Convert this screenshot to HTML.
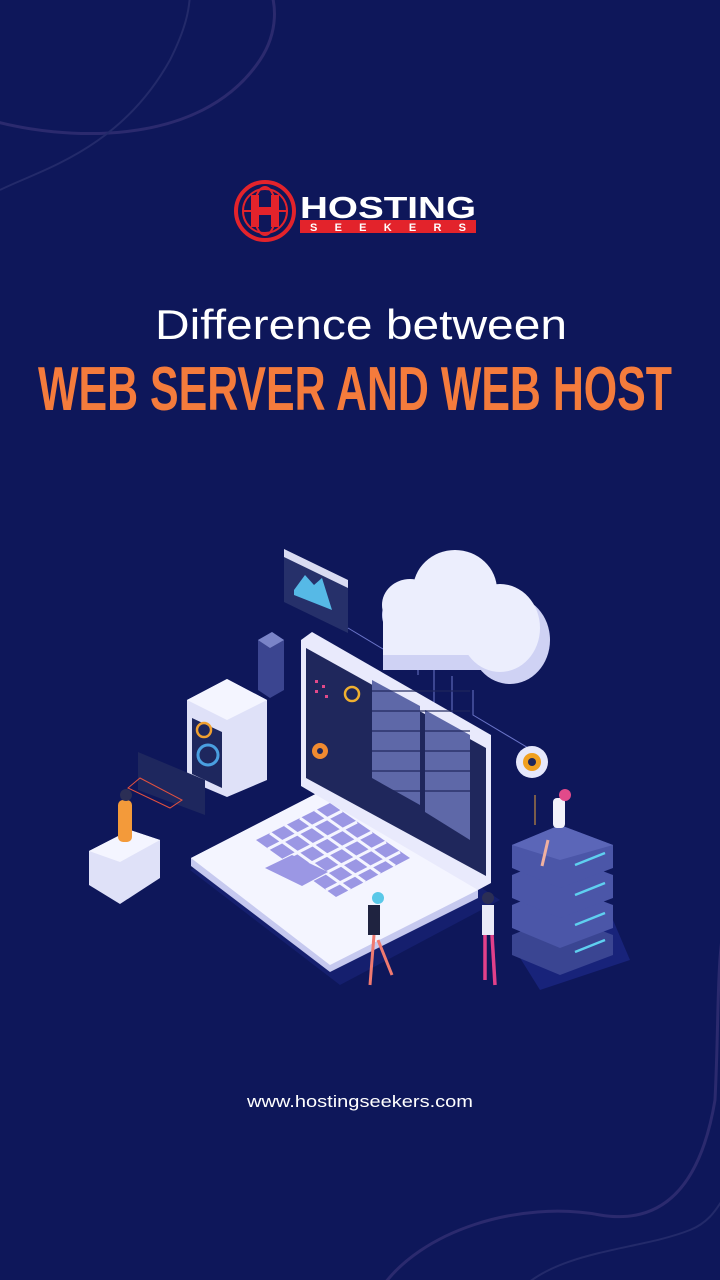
<!DOCTYPE html>
<html><head><meta charset="utf-8"><style>
html,body{margin:0;padding:0}
body{width:720px;height:1280px;background:#0e175a;position:relative;overflow:hidden;font-family:"Liberation Sans",sans-serif}
</style></head><body>
<svg width="720" height="1280" style="position:absolute;left:0;top:0">
<path d="M-10 120 C60 140 200 150 260 60 C280 30 275 0 270 -10" stroke="#2b2a6e" stroke-width="3" fill="none"/>
<path d="M0 190 C40 170 120 150 170 60 C185 30 190 10 190 -10" stroke="#232a6a" stroke-width="2" fill="none"/>
<path d="M380 1290 C420 1230 520 1200 600 1215 C660 1225 700 1190 715 1100 C720 1000 715 950 730 900" stroke="#2b2a6e" stroke-width="3" fill="none"/>
<path d="M520 1290 C560 1250 640 1250 690 1230 C715 1220 720 1200 730 1190" stroke="#232a6a" stroke-width="2" fill="none"/>
<!-- titles -->
<text x="155" y="339" fill="#fff" font-family="Liberation Sans" font-size="42" textLength="412" lengthAdjust="spacingAndGlyphs">Difference between</text>
<text x="38" y="410" fill="#f47b3c" font-family="Liberation Sans" font-weight="bold" font-size="62" textLength="634" lengthAdjust="spacingAndGlyphs">WEB SERVER AND WEB HOST</text>
<text x="247" y="1107" fill="#fff" font-family="Liberation Sans" font-size="17" textLength="226" lengthAdjust="spacingAndGlyphs">www.hostingseekers.com</text>
<!-- logo -->
<circle cx="265" cy="211" r="29" fill="none" stroke="#e3232b" stroke-width="4"/>
<circle cx="265" cy="211" r="22" fill="none" stroke="#e3232b" stroke-width="2"/>
<ellipse cx="265" cy="211" rx="11" ry="24" fill="none" stroke="#e3232b" stroke-width="2"/>
<line x1="242" y1="211" x2="288" y2="211" stroke="#e3232b" stroke-width="2"/>
<rect x="251" y="195" width="8" height="32" fill="#e3232b"/><rect x="271" y="195" width="8" height="32" fill="#e3232b"/><rect x="251" y="207" width="28" height="8" fill="#e3232b"/>
<text x="300" y="218" fill="#fff" font-family="Liberation Sans" font-weight="bold" font-size="31" textLength="176" lengthAdjust="spacingAndGlyphs">HOSTING</text>
<rect x="300" y="220" width="176" height="13" fill="#e3232b"/>
<text x="310" y="231" fill="#fff" font-family="Liberation Sans" font-weight="bold" font-size="11" textLength="156" lengthAdjust="spacing">SEEKERS</text>
<!-- illustration -->
<g>
<polygon points="190,870 340,795 500,900 340,985" fill="#151f6e"/>
<polygon points="512,945 613,920 630,960 540,990" fill="#18237a"/>
<polygon points="284,549 348,580 348,633 284,602" fill="#26306a"/>
<polygon points="284,549 348,580 348,588 284,557" fill="#d9dbf2"/>
<polygon points="294,590 305,575 314,585 322,578 332,610 294,595" fill="#56b9e6"/>
<polyline points="348,628 418,670 418,675" stroke="#6a74c8" fill="none"/>
<line x1="434" y1="668" x2="434" y2="710" stroke="#6a74c8"/>
<line x1="452" y1="676" x2="452" y2="715" stroke="#6a74c8"/>
<polyline points="473,690 473,715 535,752 535,770" stroke="#6a74c8" fill="none"/>
<line x1="535" y1="795" x2="535" y2="825" stroke="#e7a23a"/>
<g fill="#cfd2f4">
<ellipse cx="410" cy="615" rx="28" ry="26"/><ellipse cx="455" cy="600" rx="42" ry="40"/><ellipse cx="510" cy="640" rx="40" ry="44"/><rect x="383" y="615" width="150" height="55"/>
</g>
<g fill="#eceefd">
<ellipse cx="410" cy="605" rx="28" ry="26"/><ellipse cx="455" cy="590" rx="42" ry="40"/><ellipse cx="500" cy="628" rx="40" ry="44"/><rect x="383" y="605" width="140" height="50"/>
</g>
<polygon points="258,640 272,632 284,640 284,690 270,698 258,690" fill="#3b4590"/>
<polygon points="258,640 272,632 284,640 270,648" fill="#7a84c8"/>
<polygon points="187,700 227,679 267,700 267,780 227,797 187,780" fill="#dfe1f8"/>
<polygon points="187,700 227,679 267,700 227,720" fill="#f4f5ff"/>
<polygon points="192,718 222,732 222,788 192,774" fill="#1e275e"/>
<circle cx="204" cy="730" r="7" fill="none" stroke="#f0a030" stroke-width="2.5"/>
<circle cx="208" cy="755" r="10" fill="none" stroke="#4a9fe0" stroke-width="3"/>
<polygon points="138,752 205,780 205,815 138,790" fill="#1e275e"/>
<polygon points="140,778 182,800 170,808 128,788" fill="none" stroke="#e3513e" stroke-width="1"/>
<polygon points="89,851 130,830 160,840 160,878 120,904 89,885" fill="#dfe1f8"/>
<polygon points="89,851 130,830 160,840 120,862" fill="#f4f5ff"/>
<rect x="118" y="800" width="14" height="42" rx="5" fill="#f39a3a"/>
<circle cx="126" cy="795" r="6" fill="#2b2e55"/>
<polygon points="191,858 337,783 478,890 478,898 330,972 191,866" fill="#c6c9ef"/>
<polygon points="191,858 337,783 478,890 330,965" fill="#f4f5ff"/>
<polygon points="256,840 330,803 410,858 336,897" fill="#9b97e4"/>
<g stroke="#f4f5ff" stroke-width="3">
<line x1="270" y1="833" x2="350" y2="890"/><line x1="285" y1="825" x2="365" y2="882"/><line x1="300" y1="818" x2="380" y2="874"/><line x1="315" y1="810" x2="395" y2="866"/>
<line x1="268" y1="849" x2="342" y2="811"/><line x1="283" y1="860" x2="357" y2="822"/><line x1="298" y1="870" x2="372" y2="832"/><line x1="312" y1="880" x2="386" y2="842"/><line x1="326" y1="890" x2="400" y2="852"/>
</g>
<polygon points="265,868 292,855 328,872 302,886" fill="#9b97e4"/>
<polygon points="301,640 312,632 491,735 491,883 478,890 301,786" fill="#e9eafc"/>
<polygon points="306,648 486,748 486,876 306,778" fill="#1f275c"/>
<g fill="#5e68a8">
<polygon points="372,680 420,706 420,805 372,778"/><polygon points="425,710 470,735 470,840 425,812"/>
</g>
<g fill="#1f275c" opacity="0.6"><rect x="372" y="690" width="98" height="2"/><rect x="372" y="710" width="98" height="2"/><rect x="372" y="730" width="98" height="2"/><rect x="372" y="750" width="98" height="2"/><rect x="372" y="770" width="98" height="2"/><rect x="372" y="790" width="98" height="2"/></g>
<circle cx="352" cy="694" r="7" fill="none" stroke="#f0b030" stroke-width="2.5"/>
<circle cx="320" cy="751" r="8" fill="#f08a30"/><circle cx="320" cy="751" r="3" fill="#1f275c"/>
<g fill="#e24a8a"><rect x="315" y="680" width="3" height="3"/><rect x="322" y="685" width="3" height="3"/><rect x="315" y="690" width="3" height="3"/><rect x="325" y="695" width="3" height="3"/></g>
<circle cx="532" cy="762" r="16" fill="#e6e8fb"/><circle cx="532" cy="762" r="9" fill="#f0a020"/><circle cx="532" cy="762" r="4" fill="#1f275c"/>
<polygon points="512,935 560,915 613,935 613,955 560,975 512,955" fill="#3a4592"/>
<polygon points="512,905 560,885 613,905 613,928 560,948 512,928" fill="#4b56a8"/>
<polygon points="512,875 560,855 613,875 613,898 560,918 512,898" fill="#4b56a8"/>
<polygon points="512,845 560,825 613,845 613,868 560,888 512,868" fill="#4b56a8"/>
<polygon points="512,845 560,825 613,845 560,860" fill="#5b66b8"/>
<g stroke="#5fd0f0" stroke-width="2.5"><line x1="575" y1="865" x2="605" y2="853"/><line x1="575" y1="895" x2="605" y2="883"/><line x1="575" y1="925" x2="605" y2="913"/><line x1="575" y1="952" x2="605" y2="940"/></g>
<rect x="553" y="798" width="12" height="30" rx="4" fill="#f2f2fa"/><circle cx="565" cy="795" r="6" fill="#e24a8a"/>
<line x1="548" y1="840" x2="542" y2="866" stroke="#f0b0a0" stroke-width="3"/>
<rect x="368" y="905" width="12" height="30" fill="#1f2340"/><circle cx="378" cy="898" r="6" fill="#5ac8e8"/>
<line x1="374" y1="935" x2="370" y2="985" stroke="#f07a70" stroke-width="3"/><line x1="378" y1="940" x2="392" y2="975" stroke="#f07a70" stroke-width="3"/>
<rect x="482" y="905" width="12" height="30" fill="#e9eaf8"/><circle cx="488" cy="898" r="6" fill="#2b2e55"/>
<line x1="485" y1="935" x2="485" y2="980" stroke="#e2408a" stroke-width="3.5"/><line x1="492" y1="935" x2="495" y2="985" stroke="#e2408a" stroke-width="3.5"/>
</g>
</svg>
</body></html>
